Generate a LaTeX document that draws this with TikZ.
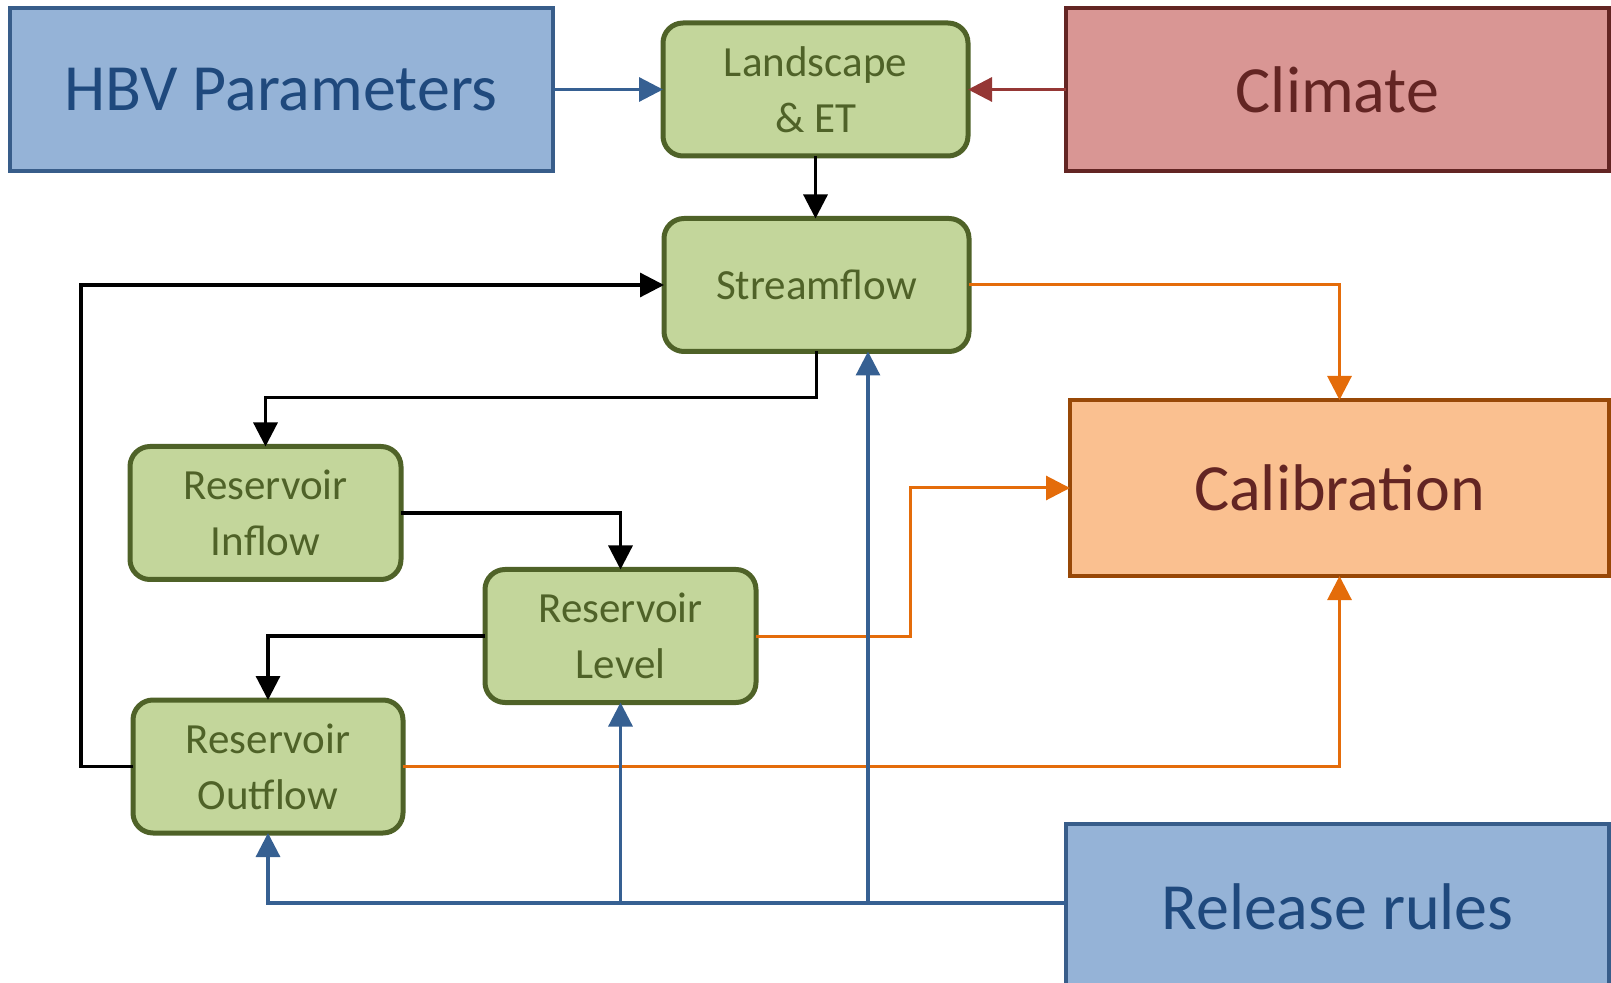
\documentclass[tikz,border=0pt]{standalone}
\usepackage{fontspec}
\setmainfont{Carlito}
\usetikzlibrary{arrows.meta}

\definecolor{bluefill}{RGB}{149,179,215}
\definecolor{blueline}{RGB}{56,93,138}
\definecolor{bluetext}{RGB}{31,73,125}
\definecolor{bluearrow}{RGB}{54,96,146}
\definecolor{redfill}{RGB}{217,150,148}
\definecolor{redline}{RGB}{99,37,35}
\definecolor{redarrow}{RGB}{149,55,53}
\definecolor{greenfill}{RGB}{195,214,155}
\definecolor{greenline}{RGB}{79,98,40}
\definecolor{orangefill}{RGB}{250,192,144}
\definecolor{orangeline}{RGB}{152,72,7}
\definecolor{orangearrow}{RGB}{228,108,10}

\begin{document}
\begin{tikzpicture}[x=0.5pt,y=-0.5pt,
	bigbox/.style={draw, line width=2pt, inner sep=0pt, outer sep=0pt, minimum width=271.5pt, font=\fontsize{33}{40}\selectfont},
	greenbox/.style={draw=greenline, fill=greenfill, text=greenline, rounded corners=10pt, line width=2.5pt, inner sep=0pt, outer sep=0pt, minimum height=66.5pt, align=center, font=\fontsize{21.5}{28}\selectfont},
	flow/.style={line width=1.6pt, -{Triangle[length=12pt,width=12pt]}},
]
	\useasboundingbox (0,0) rectangle (1611,983);

	% input boxes
	\node[bigbox, draw=blueline, fill=bluefill, text=bluetext, minimum height=81.5pt] (hbv) at (281,89.5) {HBV Parameters};
	\node[bigbox, draw=redline, fill=redfill, text=redline, minimum height=81.5pt] (clim) at (1337.5,89.5) {Climate};
	\node[bigbox, draw=orangeline, fill=orangefill, text=redline, minimum width=269.5pt, minimum height=88pt] (calib) at (1339.5,488) {Calibration};
	\node[bigbox, draw=blueline, fill=bluefill, text=bluetext, minimum height=83pt] (rules) at (1337.5,907) {Release rules};

	% model boxes
	\node[greenbox, minimum width=152.5pt] (land) at (815.5,89.5) {Landscape\\ \& ET};
	\node[greenbox, minimum width=152.5pt] (strm) at (816.5,285) {Streamflow};
	\node[greenbox, minimum width=135.5pt] (rin) at (265.5,513) {Reservoir\\ Inflow};
	\node[greenbox, minimum width=135.5pt] (rlev) at (620.5,636) {Reservoir\\ Level};
	\node[greenbox, minimum width=135pt] (rout) at (268,766.5) {Reservoir\\ Outflow};

	\draw[flow, bluearrow] (hbv.east) -- (land.west);
	\draw[flow, redarrow] (clim.west) -- (land.east);

	\draw[flow] (land.south) -- (land.south |- strm.north);
	\draw[flow] (strm.south) -- ++(0,46) -| (rin.north);
	\draw[flow] (rin.east) -| (rlev.north);
	\draw[flow] (rlev.west) -| (rout.north);
	\draw[flow] (rout.west) -- ++(-52,0) |- (strm.west);

	\draw[flow, orangearrow, line width=1.5pt] (strm.east) -| (calib.north);
	\draw[flow, orangearrow, line width=1.5pt] (rlev.east) -- ++(154,0) |- (calib.west);
	\draw[flow, orangearrow, line width=1.5pt] (rout.east) -| (calib.south);

	\draw[flow, bluearrow] ([yshift=2pt]rules.west) -| (rout.south);
	\draw[flow, bluearrow] (rlev.south |- 0,903) -- (rlev.south);
	\draw[flow, bluearrow] ([xshift=25.75pt]strm.south |- 0,903) -- ([xshift=25.75pt]strm.south);
\end{tikzpicture}
\end{document}
